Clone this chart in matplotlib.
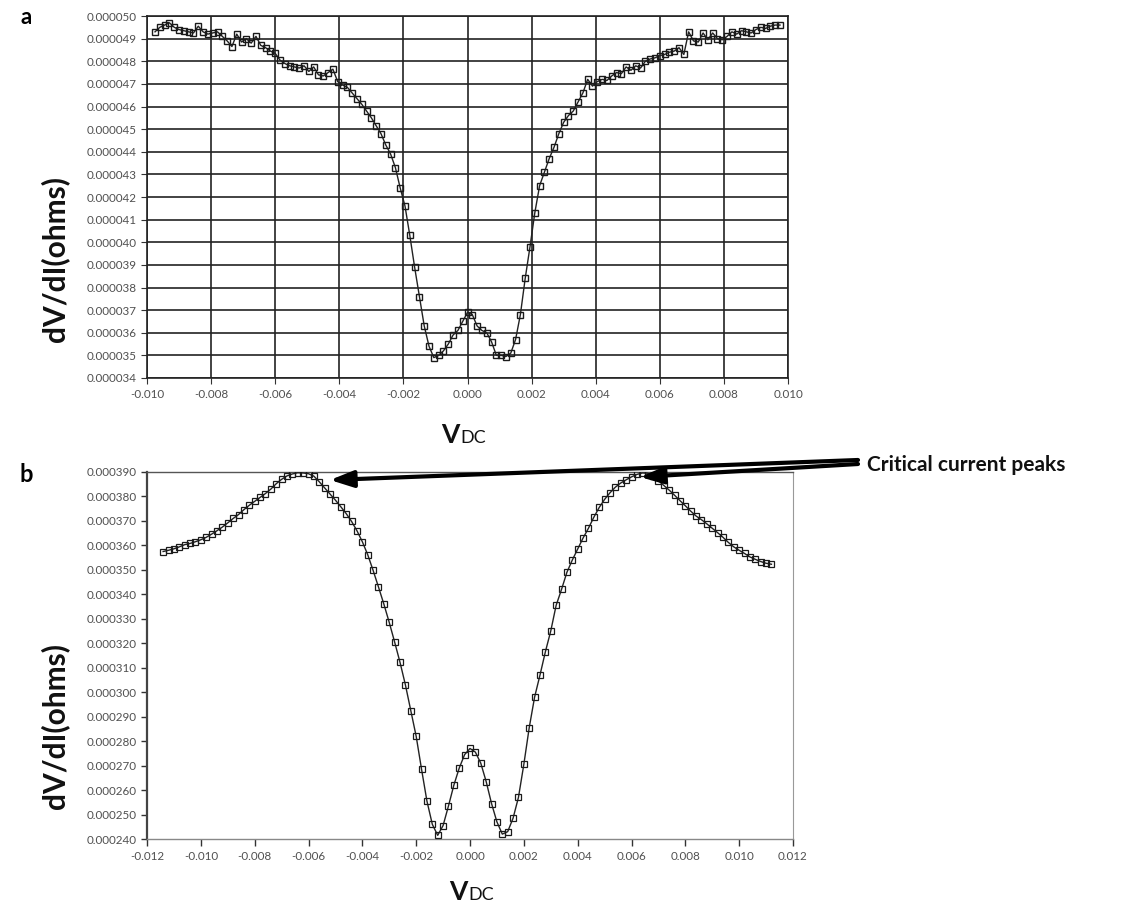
import numpy as np
import matplotlib
matplotlib.use("Agg")
import matplotlib.pyplot as plt
from matplotlib.ticker import FixedLocator, FuncFormatter

plt.rcParams['font.family'] = ['Lato', 'DejaVu Sans']

# ---------------- data (resistance in units of 1e-6 ohm) ----------------
# Panel a: sweep from -0.00975 V to 0.00975 V
a_vstart, a_vend = -0.00975, 0.00975
a_vals = [49.3, 49.5, 49.6, 49.7, 49.5, 49.4, 49.35, 49.3, 49.25, 49.55,
          49.3, 49.2, 49.25, 49.3, 49.1, 48.9, 48.65, 49.2, 48.85, 49.0,
          48.8, 49.1, 48.7, 48.6, 48.45, 48.35, 48.05, 47.9, 47.8, 47.75,
          47.7, 47.8, 47.55, 47.75, 47.4, 47.35, 47.5, 47.65, 47.1, 46.95,
          46.85, 46.6, 46.35, 46.1, 45.8, 45.5, 45.15, 44.8, 44.3, 43.9,
          43.3, 42.4, 41.6, 40.3, 38.9, 37.6, 36.3, 35.4, 34.9, 35.0,
          35.2, 35.5, 35.9, 36.1, 36.5, 36.9, 36.8, 36.3, 36.1, 36.0,
          35.6, 35.0, 35.0, 34.95, 35.1, 35.7, 36.8, 38.4, 39.8, 41.3,
          42.5, 43.1, 43.7, 44.2, 44.8, 45.3, 45.6, 45.8, 46.2, 46.6,
          47.2, 46.9, 47.1, 47.2, 47.15, 47.35, 47.5, 47.45, 47.75, 47.6,
          47.8, 47.7, 48.0, 48.1, 48.15, 48.25, 48.3, 48.4, 48.45, 48.6,
          48.3, 49.3, 48.9, 48.85, 49.25, 48.95, 49.25, 49.0, 48.95, 49.1,
          49.3, 49.2, 49.35, 49.3, 49.25, 49.4, 49.5, 49.45, 49.55, 49.6,
          49.6]

# Panel b: sweep from -0.0114 V to 0.0112 V
b_vstart, b_vend = -0.0114, 0.0112
b_vals = [357.5, 358.0, 358.6, 359.4, 360.3, 360.8, 361.5, 362.3, 363.3, 364.6,
          366.0, 367.5, 369.2, 371.0, 372.6, 374.6, 376.4, 378.0, 379.6, 381.2,
          383.0, 385.2, 387.0, 388.4, 389.2, 389.7, 389.6, 389.3, 388.3, 386.0,
          383.5, 381.0, 378.5, 375.8, 373.0, 369.8, 366.0, 361.5, 356.2, 349.8,
          343.0, 336.0, 328.5, 320.5, 312.2, 303.0, 292.5, 282.0, 268.5, 255.5,
          246.0, 241.5, 245.5, 253.5, 262.0, 269.0, 274.5, 277.0, 275.5, 271.0,
          263.5, 254.5, 247.0, 242.0, 243.0, 248.5, 257.0, 270.5, 285.5, 298.0,
          307.0, 316.5, 325.0, 335.5, 342.0, 349.0, 354.0, 358.5, 363.0, 367.0,
          371.5, 375.5, 378.8, 381.5, 383.8, 385.5, 386.8, 388.0, 389.0, 389.6,
          389.5, 388.2, 386.5, 384.5, 382.6, 380.5, 378.3, 376.2, 374.0, 372.0,
          370.5, 368.8, 367.0, 365.2, 363.3, 361.2, 359.4, 358.0, 356.7, 355.3,
          354.3, 353.4, 352.7, 352.3]

a_xticks = [-0.010, -0.008, -0.006, -0.004, -0.002, 0.000, 0.002, 0.004, 0.006, 0.008, 0.010]
a_yticks = [34, 35, 36, 37, 38, 39, 40, 41, 42, 43, 44, 45, 46, 47, 48, 49, 50]
b_xticks = [-0.012, -0.010, -0.008, -0.006, -0.004, -0.002, 0.000, 0.002, 0.004, 0.006, 0.008, 0.010, 0.012]
b_yticks = [240, 250, 260, 270, 280, 290, 300, 310, 320, 330, 340, 350, 360, 370, 380, 390]

ylabel_text = "dV/dI(ohms)"
annot_text = "Critical current peaks"

ax_x = np.linspace(a_vstart, a_vend, len(a_vals))
ay = np.array(a_vals) * 1e-6
bx = np.linspace(b_vstart, b_vend, len(b_vals))
by = np.array(b_vals) * 1e-6

W, H = 1137, 909
fig = plt.figure(figsize=(W / 100, H / 100), dpi=100)

def fx(px):
    return px / W

def fy(py):
    return 1 - py / H

tick_col = '#505050'
fmt_x = FuncFormatter(lambda v, p: f"{v:.3f}")
fmt_y = FuncFormatter(lambda v, p: f"{v:.6f}")

# ---------------- panel a ----------------
axa = fig.add_axes([fx(147), fy(378), fx(788) - fx(147), fy(16) - fy(378)])
axa.plot(ax_x, ay, '-', color='#222222', lw=1.0, marker='s', ms=5.0,
         mfc='none', mec='#1a1a1a', mew=1.0, zorder=3)
axa.set_xlim(-0.010, 0.010)
axa.set_ylim(34e-6, 50e-6)
axa.xaxis.set_major_locator(FixedLocator(a_xticks))
axa.yaxis.set_major_locator(FixedLocator([v * 1e-6 for v in a_yticks]))
axa.xaxis.set_major_formatter(fmt_x)
axa.yaxis.set_major_formatter(fmt_y)
axa.grid(True, color='#222222', lw=1.2)
axa.set_axisbelow(True)
axa.tick_params(axis='both', labelsize=8.4, colors='#333333', labelcolor=tick_col,
                length=4, width=0.8, direction='out')
axa.tick_params(axis='x', pad=4)
for s in axa.spines.values():
    s.set_color('#222222')
    s.set_linewidth(1.2)

# ---------------- panel b ----------------
axb = fig.add_axes([fx(147), fy(839), fx(793) - fx(147), fy(472) - fy(839)])
axb.plot(bx, by, '-', color='#222222', lw=1.0, marker='s', ms=3.8,
         mfc='none', mec='#1a1a1a', mew=0.9, zorder=3)
axb.set_xlim(-0.012, 0.012)
axb.set_ylim(240e-6, 390e-6)
axb.xaxis.set_major_locator(FixedLocator(b_xticks))
axb.yaxis.set_major_locator(FixedLocator([v * 1e-6 for v in b_yticks]))
axb.xaxis.set_major_formatter(fmt_x)
axb.yaxis.set_major_formatter(fmt_y)
axb.tick_params(axis='both', labelsize=8.4, colors='#333333', labelcolor=tick_col,
                length=4, width=1.0, direction='out')
axb.tick_params(axis='x', pad=4, length=5)
axb.spines['left'].set_color('#444444')
axb.spines['left'].set_linewidth(1.6)
axb.spines['bottom'].set_color('#888888')
axb.spines['bottom'].set_linewidth(1.0)
axb.spines['top'].set_color('#555555')
axb.spines['top'].set_linewidth(1.0)
axb.spines['right'].set_color('#999999')
axb.spines['right'].set_linewidth(0.8)

# ---------------- labels ----------------
fig.text(fx(26), fy(18), 'a', fontsize=16, fontweight='bold', ha='center', va='center')
fig.text(fx(26), fy(474), 'b', fontsize=17, fontweight='bold', ha='center', va='center')

for cy in (259, 726):
    fig.text(fx(55), fy(cy), ylabel_text, rotation=90, fontsize=21.5, fontweight='bold',
             ha='center', va='center', color='#111111')

for (vx, vy) in ((441, 443), (449, 900)):
    fig.text(fx(vx), fy(vy), 'V', fontsize=19, fontweight='bold', ha='left', va='baseline',
             color='#111111')
    fig.text(fx(vx + 19), fy(vy), 'DC', fontsize=13, ha='left', va='baseline', color='#111111')

fig.text(fx(867), fy(465), annot_text, fontsize=15, fontweight='bold', ha='left', va='center',
         color='#111111')

# arrows to critical current peaks
arrow_kw = dict(arrowstyle='-|>,head_length=1.4,head_width=0.5', color='black', lw=3.0,
                shrinkA=0, shrinkB=0)
fig.add_artist(matplotlib.patches.FancyArrowPatch(
    (fx(858), fy(460)), (fx(330), fy(480)), transform=fig.transFigure, mutation_scale=10, **arrow_kw))
fig.add_artist(matplotlib.patches.FancyArrowPatch(
    (fx(858), fy(464)), (fx(640), fy(477)), transform=fig.transFigure, mutation_scale=10, **arrow_kw))

fig.savefig('out.png', dpi=100)
